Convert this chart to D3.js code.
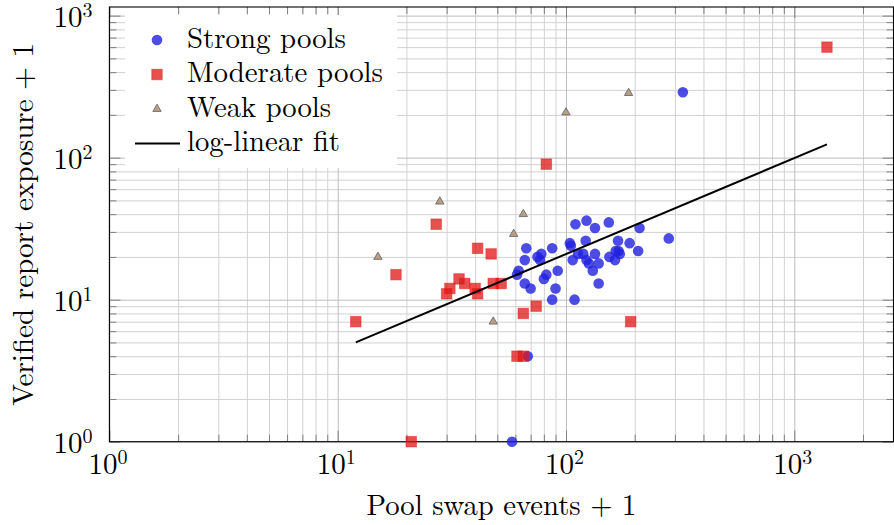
<!DOCTYPE html>
<html><head><meta charset="utf-8">
<script src="https://cdn.jsdelivr.net/npm/d3@7"></script>
<style>body{margin:0;background:#fff}svg{display:block}</style>
</head><body>
<svg id="c" width="894" height="525"></svg>
<script>
// ---- data ----
const strongX = [67,66,75,78,77,87,62,61,66,70,82,80,92,90,87,110,123,134,104,105,122,107,113,119,123,126,134,139,131,139,109,154,210,282,169,190,207,165,172,155,164,170,325,68,58];
const strongY = [23,19,20,21,19,23,16,15,13,12,15,14,16,12,10,34,36,32,25,24,26,19,21,21,19,18,21,18,16,13,10,35,32,27,26,25,22,22,21,20,19,22,289,4,1];
const moderateX = [12,18,21,27,30,31,34,36,40,41,41,47,48,52,65,74,61,65,82,192,1390];
const moderateY = [7,15,1,34,11,12,14,13,12,11,23,21,13,13,8,9,4,4,90,7,600];
const weakX = [15,28,48,59,65,100,188];
const weakY = [20,49,7,29,40,208,285];
const fitX = [12,1390];
const fitY = [5,124];
const legendLabels = ["Strong pools","Moderate pools","Weak pools","log-linear fit"];
const xTickExps = [0,1,2,3];
const yTickExps = [0,1,2,3];
const xTitle = "Pool swap events + 1";
const yTitle = "Verified report exposure + 1";

// ---- layout ----
const L = 109.4, R = 893.5, T = 7, B = 441.7;
const FONT = '"Latin Modern Roman", "Liberation Serif", serif';
const svg = d3.select("#c");
const x = d3.scaleLog().domain([1, 2720]).range([L, R]);
const y = d3.scaleLog().domain([1, 1150]).range([B, T]);

const xMajor = xTickExps.map(e => Math.pow(10, e));
const yMajor = yTickExps.map(e => Math.pow(10, e));
function minors(maxV) {
  const out = [];
  for (let d = 1; d <= 1000; d *= 10) for (let k = 2; k <= 9; k++) if (k*d <= maxV) out.push(k*d);
  return out;
}
const xMinor = minors(2720), yMinor = minors(1150);

// grid
const grid = svg.append("g");
grid.append("g").attr("transform", `translate(0,${B})`)
  .call(d3.axisBottom(x).tickValues(xMinor).tickSize(-(B-T)).tickFormat(""))
  .call(g => { g.select(".domain").remove(); g.selectAll("line").attr("stroke", "#d2d2d2"); });
grid.append("g").attr("transform", `translate(${L},0)`)
  .call(d3.axisLeft(y).tickValues(yMinor).tickSize(-(R-L)).tickFormat(""))
  .call(g => { g.select(".domain").remove(); g.selectAll("line").attr("stroke", "#d2d2d2"); });
grid.append("g").attr("transform", `translate(0,${B})`)
  .call(d3.axisBottom(x).tickValues(xMajor).tickSize(-(B-T)).tickFormat(""))
  .call(g => { g.select(".domain").remove(); g.selectAll("line").attr("stroke", "#bdbdbd"); });
grid.append("g").attr("transform", `translate(${L},0)`)
  .call(d3.axisLeft(y).tickValues(yMajor).tickSize(-(R-L)).tickFormat(""))
  .call(g => { g.select(".domain").remove(); g.selectAll("line").attr("stroke", "#bdbdbd"); });

// tick marks (inward) on all four sides
function ticks(axisFn, pos, vals, len) {
  svg.append("g").attr("transform", pos)
    .call(axisFn.tickValues(vals).tickSize(len).tickFormat(""))
    .call(g => { g.select(".domain").remove(); g.selectAll("line").attr("stroke", "#808080"); });
}
ticks(d3.axisBottom(x), `translate(0,${B})`, xMinor, -7);
ticks(d3.axisBottom(x), `translate(0,${B})`, xMajor, -11);
ticks(d3.axisTop(x), `translate(0,${T})`, xMinor, -7);
ticks(d3.axisTop(x), `translate(0,${T})`, xMajor, -11);
ticks(d3.axisLeft(y), `translate(${L},0)`, yMinor, -7);
ticks(d3.axisLeft(y), `translate(${L},0)`, yMajor, -11);
ticks(d3.axisRight(y), `translate(${R},0)`, yMinor, -7);
ticks(d3.axisRight(y), `translate(${R},0)`, yMajor, -11);

// frame
svg.append("rect").attr("x", L).attr("y", T).attr("width", R-L).attr("height", B-T)
  .attr("fill", "none").attr("stroke", "#000").attr("stroke-width", 1.1);

// tick labels
function supLabel(sel, e) {
  sel.text(null);
  sel.append("tspan").style("font-family", FONT).text("10");
  sel.append("tspan").attr("dy", -10).style("font-family", FONT).style("font-size", "20px").text(e);
}
const xl = svg.append("g").attr("transform", `translate(0,${B})`)
  .call(d3.axisBottom(x).tickValues(xMajor).tickSize(0).tickPadding(0).tickFormat(d => d));
xl.select(".domain").remove();
xl.selectAll(".tick text").style("font-family", FONT).style("font-size", "29px").attr("fill", "#000")
  .attr("dy", null).attr("y", 32).attr("x", -2).attr("text-anchor", "middle")
  .each(function(d){ supLabel(d3.select(this), Math.round(Math.log10(d))); });
const yl = svg.append("g").attr("transform", `translate(${L},0)`)
  .call(d3.axisLeft(y).tickValues(yMajor).tickSize(0).tickPadding(0).tickFormat(d => d));
yl.select(".domain").remove();
yl.selectAll(".tick text").style("font-family", FONT).style("font-size", "29px").attr("fill", "#000")
  .attr("dy", null).attr("y", 11).attr("x", -17).attr("text-anchor", "end")
  .each(function(d){ supLabel(d3.select(this), Math.round(Math.log10(d))); });

// axis titles
svg.append("text").attr("x", (L+R)/2).attr("y", 515).attr("text-anchor", "middle")
  .style("font-family", FONT).style("font-size", "29px").attr("textLength", 270)
  .attr("lengthAdjust", "spacingAndGlyphs").text(xTitle);
svg.append("text").attr("transform", `translate(33,${(T+B)/2}) rotate(-90)`).attr("text-anchor", "middle")
  .style("font-family", FONT).style("font-size", "29px").attr("textLength", 363)
  .attr("lengthAdjust", "spacingAndGlyphs").text(yTitle);

// series
const BLUE = "#2020e0", RED = "#e01515";
const strong = strongX.map((v, i) => ({x: v, y: strongY[i]}));
const moderate = moderateX.map((v, i) => ({x: v, y: moderateY[i]}));
const weak = weakX.map((v, i) => ({x: v, y: weakY[i]}));
const fit = fitX.map((v, i) => ({x: v, y: fitY[i]}));

svg.append("g").selectAll("circle").data(strong).join("circle")
  .attr("cx", d => x(d.x)).attr("cy", d => y(d.y)).attr("r", 5.3)
  .attr("fill", BLUE).attr("fill-opacity", 0.8);
const SQ = 10.5;
svg.append("g").selectAll("rect").data(moderate).join("rect")
  .attr("x", d => x(d.x) - SQ/2).attr("y", d => y(d.y) - SQ/2).attr("width", SQ).attr("height", SQ)
  .attr("fill", RED).attr("fill-opacity", 0.75).attr("stroke", RED).attr("stroke-opacity", 0.45).attr("stroke-width", 1);
const tri = d3.symbol(d3.symbolTriangle, 30);
svg.append("g").selectAll("path").data(weak).join("path")
  .attr("d", tri).attr("transform", d => `translate(${x(d.x)},${y(d.y)})`)
  .attr("fill", "#b99f83").attr("stroke", "#6a6a6a").attr("stroke-width", 0.9);
svg.append("path").datum(fit)
  .attr("d", d3.line().x(d => x(d.x)).y(d => y(d.y)))
  .attr("fill", "none").attr("stroke", "#000").attr("stroke-width", 2);

// legend
const lg = svg.append("g");
lg.append("rect").attr("x", 125).attr("y", 15).attr("width", 272).attr("height", 153).attr("fill", "#fff");
const rows = [40, 74.5, 109, 143.5];
const widths = [159, 196, 144, 153];
lg.append("circle").attr("cx", 157).attr("cy", rows[0]).attr("r", 5.3).attr("fill", BLUE).attr("fill-opacity", 0.8);
lg.append("rect").attr("x", 157 - SQ/2).attr("y", rows[1] - SQ/2).attr("width", SQ).attr("height", SQ)
  .attr("fill", RED).attr("fill-opacity", 0.75).attr("stroke", RED).attr("stroke-opacity", 0.45);
lg.append("path").attr("d", tri).attr("transform", `translate(157,${rows[2]})`)
  .attr("fill", "#b99f83").attr("stroke", "#6a6a6a").attr("stroke-width", 0.9);
lg.append("line").attr("x1", 135).attr("x2", 180).attr("y1", rows[3]).attr("y2", rows[3])
  .attr("stroke", "#000").attr("stroke-width", 2);
legendLabels.forEach((t, i) => {
  lg.append("text").attr("x", 187).attr("y", rows[i] + 7.5)
    .style("font-family", FONT).style("font-size", "29px").attr("textLength", widths[i])
    .attr("lengthAdjust", "spacingAndGlyphs").text(t);
});
</script>
</body></html>
